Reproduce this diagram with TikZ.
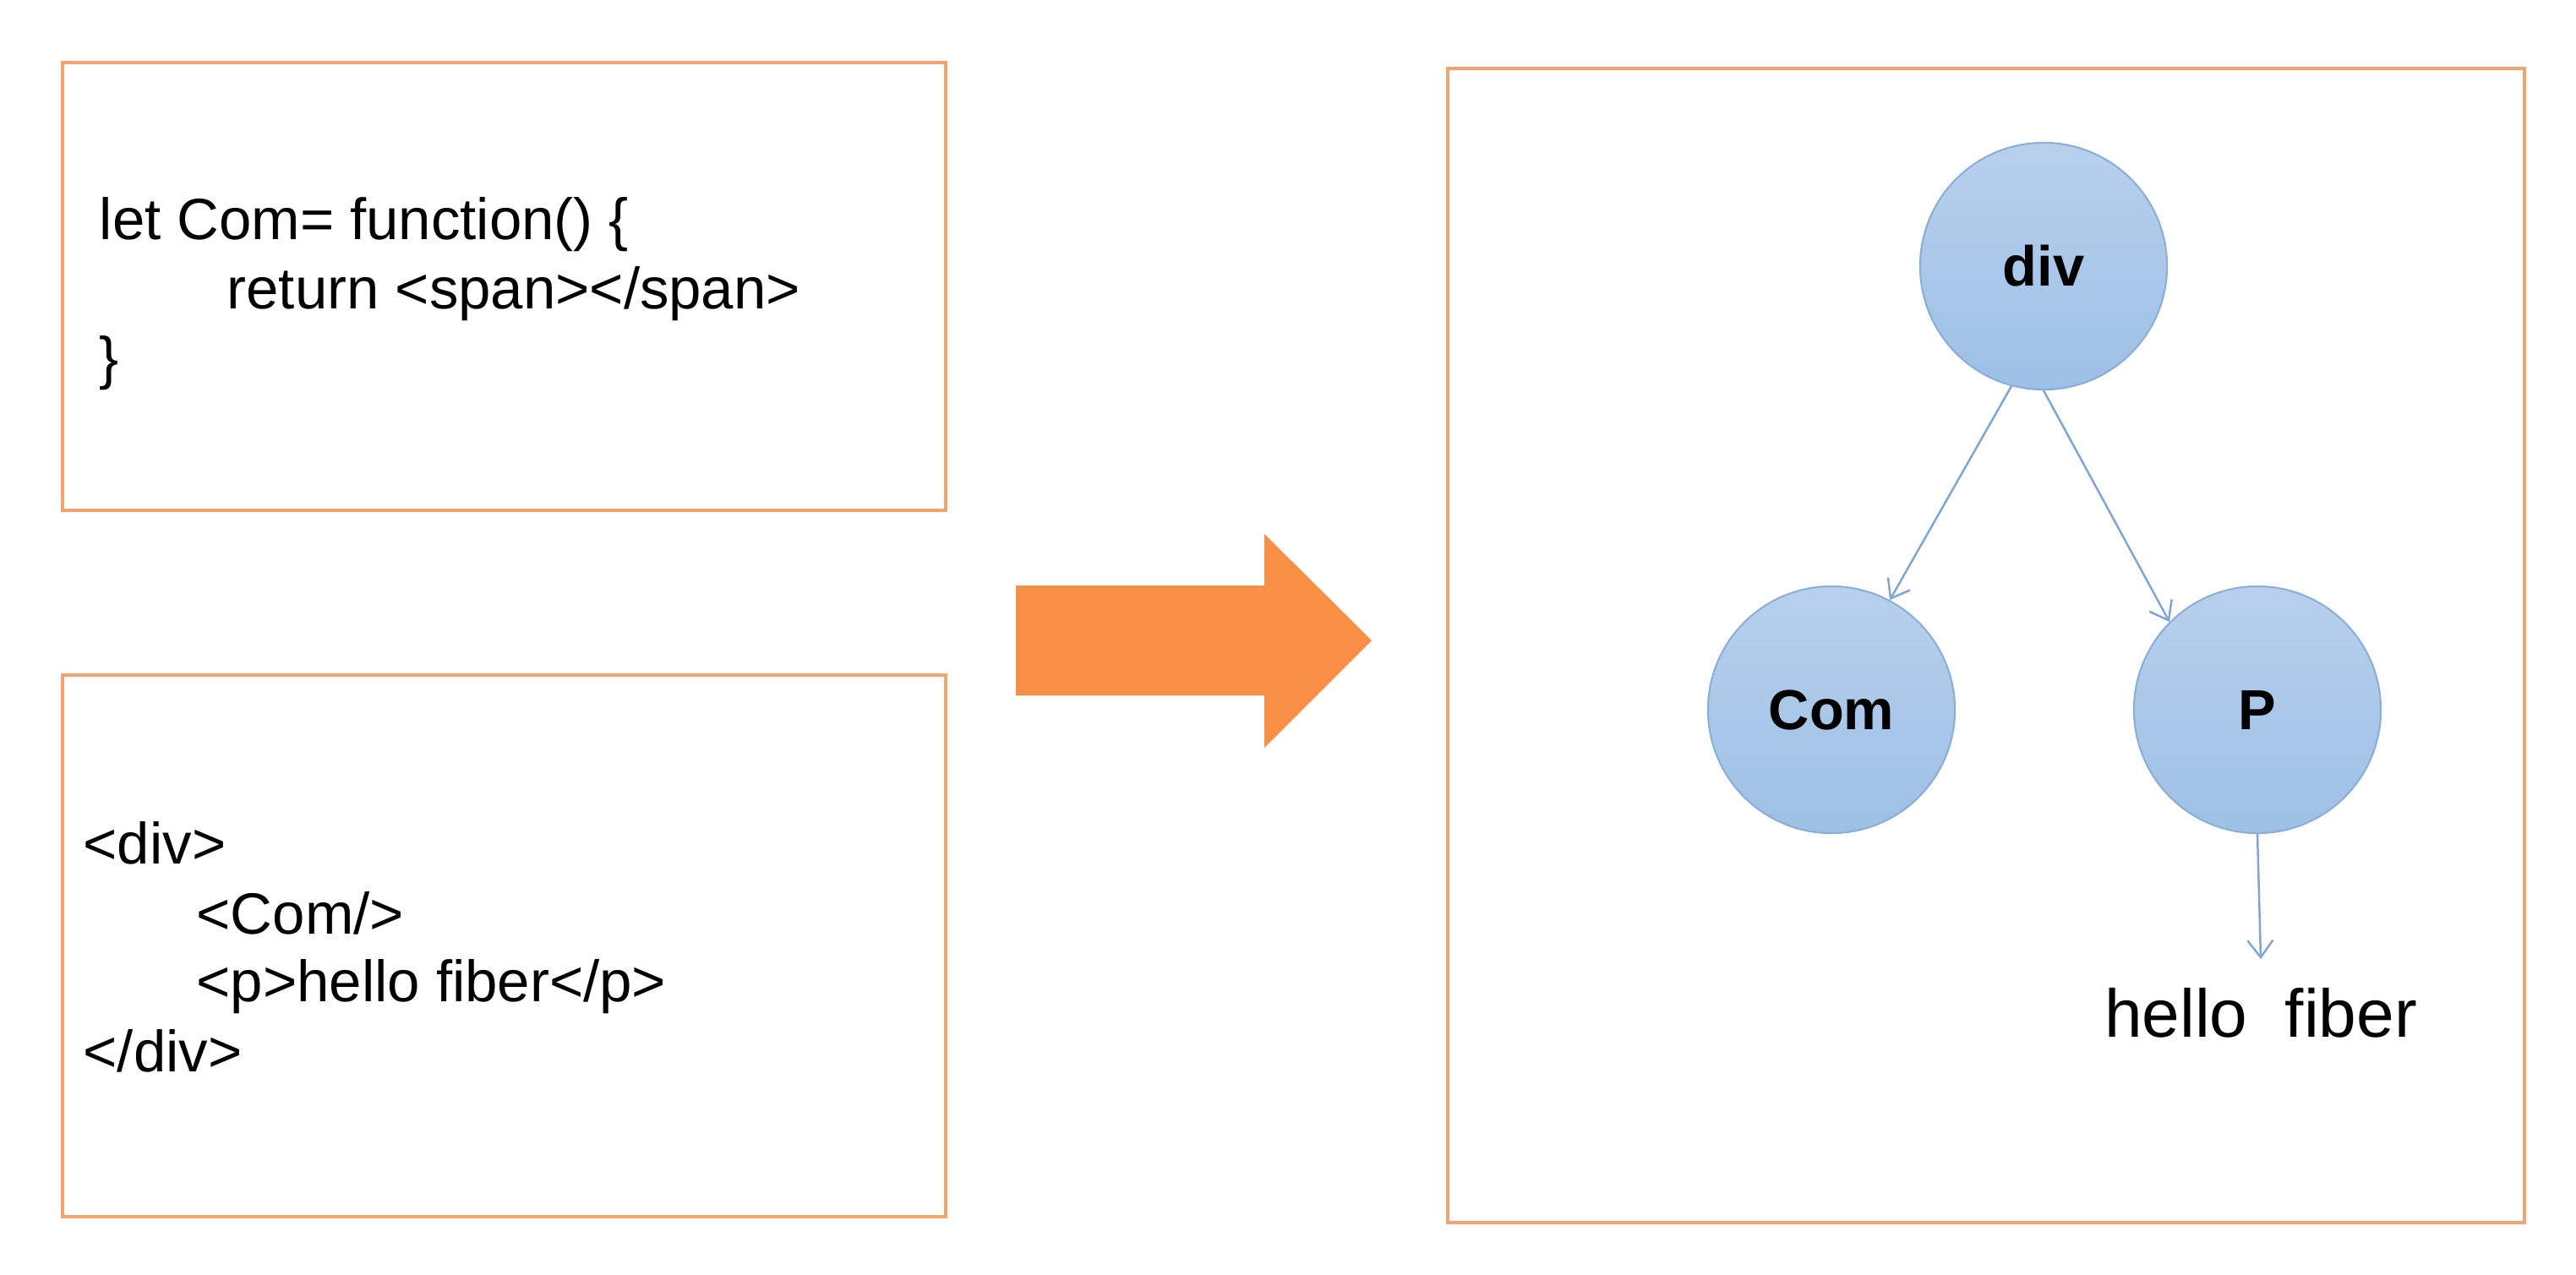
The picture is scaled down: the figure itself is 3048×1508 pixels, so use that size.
\documentclass[tikz,border=0pt]{standalone}
\usepackage{fontspec}
\setmainfont{Liberation Sans}
\usetikzlibrary{arrows.meta}
\definecolor{boxorange}{RGB}{242,164,112}
\definecolor{bigorange}{RGB}{248,143,70}
\definecolor{circtop}{RGB}{184,208,236}
\definecolor{circbot}{RGB}{157,192,230}
\definecolor{circline}{RGB}{140,175,215}
\definecolor{linkblue}{RGB}{128,165,212}
\tikzset{
  codebox/.style={draw=boxorange, line width=1pt},
  codeline/.style={anchor=base west, inner sep=0pt, font=\fontsize{19.6}{23}\selectfont},
  treenode/.style={circle, minimum size=2.92cm, inner sep=0pt, draw=circline, line width=0.6pt,
    top color=circtop, bottom color=circbot, font=\fontsize{19}{22}\selectfont\bfseries},
  link/.style={draw=linkblue, line width=0.7pt, -{Straight Barb[length=0.2cm,width=0.3cm]}},
}
\begin{document}
\begin{tikzpicture}[x=0.01cm,y=-0.01cm]
\useasboundingbox[fill=white] (0,0) rectangle (3048,1508);
% left boxes
\draw[codebox] (74,74) rectangle (1119,604);
\draw[codebox] (74,799) rectangle (1119,1440);
\node[codeline] (c1) at (117,283) {let Com= function() \{};
\node[codeline] (c2) at (268,365) {return <span></span>};
\node[codeline] (c3) at (117,447) {\}};
\node[codeline] (h1) at (98,1022) {<div>};
\node[codeline] (h2) at (232,1105) {<Com/>};
\node[codeline] (h3) at (232,1185) {<p>hello fiber</p>};
\node[codeline] (h4) at (98,1268) {</div>};
% big arrow
\fill[bigorange] (1202,693) -- (1496,693) -- (1496,632) -- (1623,758) -- (1496,885) -- (1496,823) -- (1202,823) -- cycle;
% right box
\draw[codebox] (1713,81) rectangle (2987,1447);
\node[treenode] (div) at (2418,315) {div};
\node[treenode] (com) at (2167,840) {Com};
\node[treenode] (p) at (2671,840) {P};
\node[anchor=base, inner sep=0pt, font=\fontsize{22.8}{27}\selectfont] (hello) at (2675,1227) {hello\ \ fiber};
\coordinate (helloTop) at (2675,1135);
\draw[link] (div.255) -- (com.62);
\draw[link] (div.270) -- (p.135);
\draw[link] (p.south) -- (helloTop);
\end{tikzpicture}
\end{document}
